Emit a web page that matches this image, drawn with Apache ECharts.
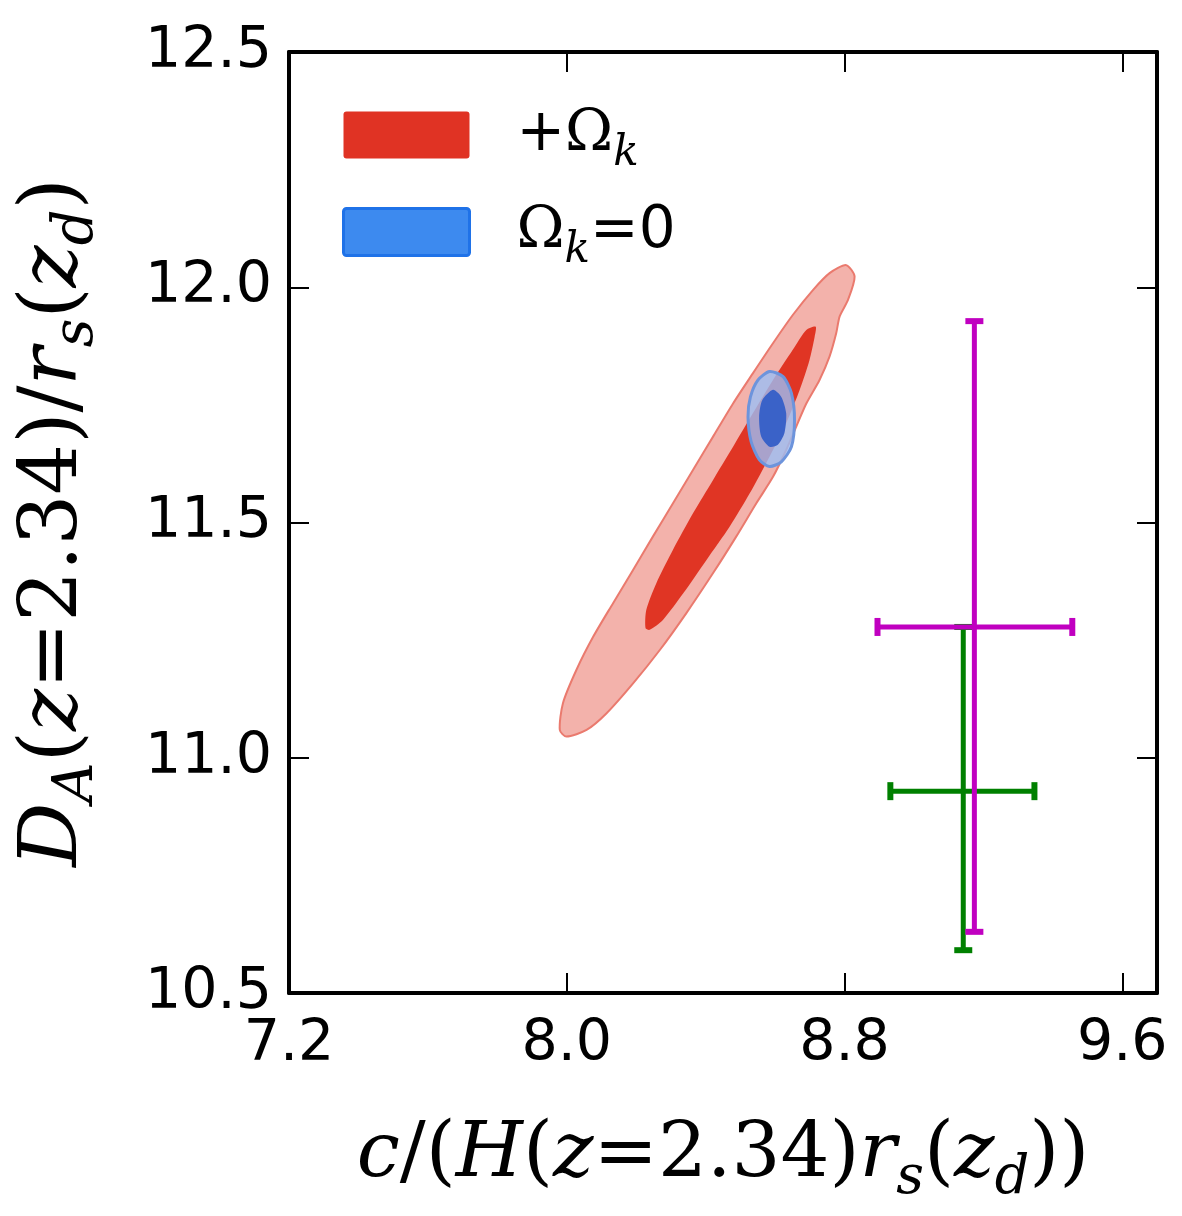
<!DOCTYPE html>
<html>
<head>
<meta charset="utf-8">
<script src="https://cdn.jsdelivr.net/npm/echarts@6/dist/echarts.min.js"></script>
<style>
  html, body { margin: 0; background: #fff; }
  #chart { width: 1182px; height: 1216px; }
</style>
</head>
<body>
<div id="chart"></div>
<script>
// axis ranges / ticks
var xRange = [7.2, 9.7], xStep = 0.8;
var yRange = [10.5, 12.5], yStep = 0.5;

// +Omega_k, outer (95%) contour  [c/(H rs), DA/rs]
var curvedOuter = [
  [8.805, 12.047], [8.757, 12.030], [8.709, 11.994], [8.651, 11.941], [8.594, 11.881],
  [8.536, 11.817], [8.479, 11.753], [8.421, 11.682], [8.364, 11.612], [8.306, 11.541],
  [8.248, 11.470], [8.191, 11.399], [8.133, 11.328], [8.076, 11.257], [8.028, 11.187],
  [7.989, 11.116], [7.980, 11.059], [7.999, 11.045], [8.057, 11.059], [8.114, 11.094],
  [8.191, 11.158], [8.268, 11.229], [8.344, 11.307], [8.421, 11.392], [8.488, 11.470],
  [8.546, 11.541], [8.594, 11.597], [8.632, 11.654], [8.661, 11.704], [8.690, 11.753],
  [8.728, 11.803], [8.757, 11.853], [8.776, 11.902], [8.786, 11.938], [8.810, 11.973],
  [8.829, 12.023]
];
// +Omega_k, inner (68%) contour
var curvedInner = [
  [8.717, 11.916], [8.690, 11.909], [8.651, 11.867], [8.594, 11.803], [8.536, 11.732],
  [8.479, 11.661], [8.421, 11.590], [8.364, 11.520], [8.306, 11.442], [8.258, 11.371],
  [8.229, 11.314], [8.227, 11.275], [8.239, 11.272], [8.277, 11.293], [8.335, 11.349],
  [8.402, 11.420], [8.469, 11.491], [8.527, 11.562], [8.584, 11.640], [8.632, 11.711],
  [8.671, 11.782], [8.699, 11.845], [8.714, 11.895]
];
// Omega_k = 0 contours
var flatOuter = [
  [8.584, 11.821], [8.623, 11.810], [8.647, 11.775], [8.656, 11.718], [8.647, 11.661],
  [8.618, 11.629], [8.584, 11.619], [8.555, 11.633], [8.531, 11.672], [8.522, 11.725],
  [8.529, 11.767], [8.551, 11.803]
];
var flatInner = [
  [8.594, 11.782], [8.618, 11.767], [8.632, 11.732], [8.627, 11.690], [8.608, 11.665],
  [8.584, 11.661], [8.560, 11.683], [8.554, 11.725], [8.563, 11.760]
];
// error crosses: [x, y, xLow, xHigh, yLow, yHigh]
var crossMagenta = [9.174, 11.278, 8.895, 9.456, 10.630, 11.928];
var crossGreen = [9.142, 10.929, 8.932, 9.347, 10.591, 11.278];

var myChart = echarts.init(document.getElementById('chart'));

function contour(name, pts, fill, stroke, lw) {
  return {
    type: 'custom',
    name: name,
    data: pts,
    encode: { x: 0, y: 1 },
    silent: true,
    renderItem: function (params, api) {
      if (params.dataIndex !== 0) return;
      var p = pts.map(function (d) { return api.coord(d); });
      return {
        type: 'polygon',
        shape: { points: p, smooth: 0.25 },
        style: { fill: fill, stroke: stroke, lineWidth: lw }
      };
    }
  };
}

function cross(name, e, color) {
  return {
    type: 'custom',
    name: name,
    data: [e],
    encode: { x: 0, y: 1 },
    silent: true,
    renderItem: function (params, api) {
      var l = api.coord([api.value(2), api.value(1)]);
      var r = api.coord([api.value(3), api.value(1)]);
      var b = api.coord([api.value(0), api.value(4)]);
      var t = api.coord([api.value(0), api.value(5)]);
      var st = { stroke: color, lineWidth: 5 };
      var c = 9, w = 6;
      return {
        type: 'group',
        children: [
          { type: 'line', shape: { x1: l[0], y1: l[1], x2: r[0], y2: r[1] }, style: st },
          { type: 'line', shape: { x1: b[0], y1: b[1], x2: t[0], y2: t[1] }, style: st },
          { type: 'rect', shape: { x: l[0] - w / 2, y: l[1] - c, width: w, height: 2 * c }, style: { fill: color } },
          { type: 'rect', shape: { x: r[0] - w / 2, y: r[1] - c, width: w, height: 2 * c }, style: { fill: color } },
          { type: 'rect', shape: { x: b[0] - c, y: b[1] - w / 2, width: 2 * c, height: w }, style: { fill: color } },
          { type: 'rect', shape: { x: t[0] - c, y: t[1] - w / 2, width: 2 * c, height: w }, style: { fill: color } }
        ]
      };
    }
  };
}

var serif = 'DejaVu Serif';
function mathRich(size) {
  return {
    n: { fontFamily: serif, fontSize: size, lineHeight: 100, color: '#000' },
    i: { fontFamily: serif, fontStyle: 'italic', fontSize: size, lineHeight: 100, color: '#000' },
    s: { fontFamily: serif, fontStyle: 'italic', fontSize: Math.round(size * 0.7), lineHeight: 51, verticalAlign: 'bottom', color: '#000' }
  };
}

function axisCommon(pos, showLabel) {
  return {
    position: pos,
    axisLine: { show: true, onZero: false, lineStyle: { color: '#000', width: 4 } },
    axisTick: { show: true, inside: true, length: 20, lineStyle: { color: '#000', width: 2 } },
    axisLabel: {
      show: showLabel, showMaxLabel: false, fontSize: 57, fontFamily: 'DejaVu Sans', color: '#000',
      formatter: function (v) { return v.toFixed(1); }
    },
    splitLine: { show: false }
  };
}

var xBottom = Object.assign({ type: 'value', min: xRange[0], max: xRange[1], interval: xStep }, axisCommon('bottom', true));
xBottom.axisLabel.margin = 24;
xBottom.name = '{i|c}{n|/(}{i|H}{n|(}{i|z}{n|=2.34)}{i|r}{s|s}{n|(}{i|z}{s|d}{n|))}';
xBottom.nameLocation = 'middle';
xBottom.nameGap = 113;
xBottom.nameTextStyle = { rich: mathRich(77) };

var xTop = Object.assign({ type: 'value', min: xRange[0], max: xRange[1], interval: xStep }, axisCommon('top', false));

var yLeft = Object.assign({ type: 'value', min: yRange[0], max: yRange[1], interval: yStep }, axisCommon('left', true));
yLeft.axisLabel.margin = 17;
yLeft.axisLabel.showMaxLabel = true;
yLeft.name = '{i|D}{s|A}{n|(}{i|z}{n|=2.34)/}{i|r}{s|s}{n|(}{i|z}{s|d}{n|)}';
yLeft.nameLocation = 'middle';
yLeft.nameGap = 184;
yLeft.nameTextStyle = { rich: mathRich(80) };

var yRight = Object.assign({ type: 'value', min: yRange[0], max: yRange[1], interval: yStep }, axisCommon('right', false));

var option = {
  animation: false,
  backgroundColor: '#fff',
  grid: { left: 289, top: 52, right: 25, bottom: 223 },
  xAxis: [xBottom, xTop],
  yAxis: [yLeft, yRight],
  legend: {
    orient: 'vertical',
    left: 342,
    top: 106,
    padding: 0,
    itemWidth: 126,
    itemHeight: 47,
    itemGap: 28,
    icon: 'path://M3,0 H123 A3,3 0 0 1 126,3 V44 A3,3 0 0 1 123,47 H3 A3,3 0 0 1 0,44 V3 A3,3 0 0 1 3,0 Z',
    selectedMode: false,
    data: [
      { name: 'curved', itemStyle: { color: '#e03324' } },
      { name: 'flat', itemStyle: { color: '#3d8aef', borderColor: '#1f72e8', borderWidth: 3 } }
    ],
    formatter: function (n) {
      return n === 'curved' ? '{p|+}{o|Ω}{k|k}' : '{o0|Ω}{k|k}{u|=0}';
    },
    textStyle: {
      rich: {
        p: { fontFamily: 'DejaVu Sans', fontSize: 58, lineHeight: 80, color: '#000', padding: [0, 0, 0, 42] },
        o: { fontFamily: 'DejaVu Serif', fontSize: 58, lineHeight: 80, color: '#000' },
        o0: { fontFamily: 'DejaVu Serif', fontSize: 58, lineHeight: 80, color: '#000', padding: [0, 0, 0, 42] },
        k: { fontFamily: 'DejaVu Serif', fontStyle: 'italic', fontSize: 42, lineHeight: 16, verticalAlign: 'bottom', color: '#000' },
        u: { fontFamily: 'DejaVu Sans', fontSize: 58, lineHeight: 80, color: '#000' }
      }
    }
  },
  series: [
    contour('curved', curvedOuter, '#f3b2ab', '#ea7a6e', 2),
    contour('curvedInner', curvedInner, '#e03524', null, 0),
    contour('flat', flatOuter, 'rgba(155,190,245,0.8)', '#6d94dc', 3),
    contour('flatInner', flatInner, '#3a62c8', null, 0),
    cross('green', crossGreen, '#008000'),
    cross('magenta', crossMagenta, '#c000c0')
  ]
};

option && myChart.setOption(option);
</script>
</body>
</html>
